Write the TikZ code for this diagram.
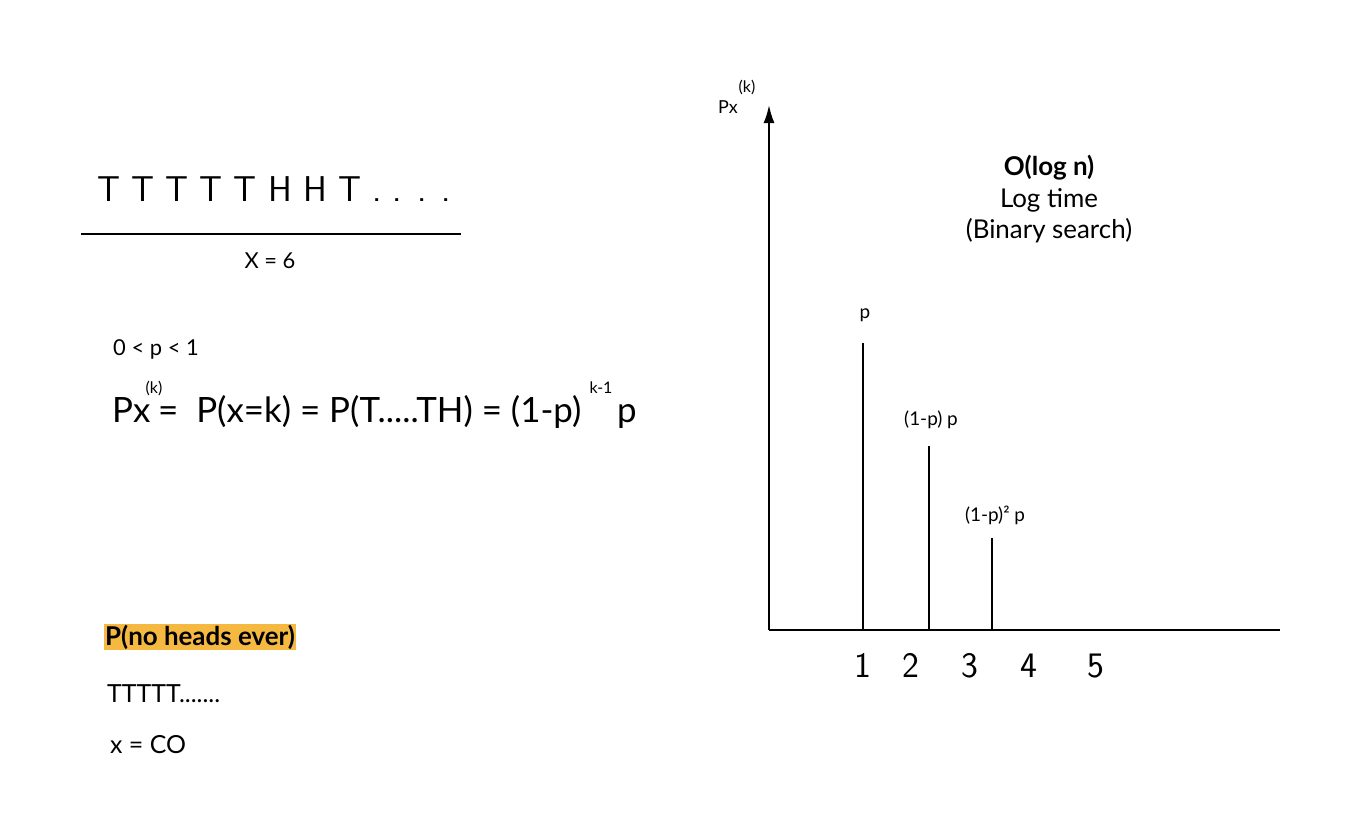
\documentclass[tikz,border=0pt]{standalone}
\usepackage{fontspec}
\setmainfont{Lato}
\usetikzlibrary{arrows.meta,positioning}
\definecolor{hilite}{HTML}{F5B942}

\begin{document}
\begin{tikzpicture}[x=1bp,y=-1bp,
lbl/.style={inner sep=0pt,anchor=base west},
clbl/.style={inner sep=0pt,anchor=base},
huge/.style={font=\sffamily\fontsize{36}{40}\selectfont},
big/.style={font=\fontsize{35}{40}\selectfont},
mid/.style={font=\fontsize{25}{30}\selectfont},
head/.style={font=\fontsize{26}{30}\selectfont},
small/.style={font=\fontsize{22}{26}\selectfont},
tiny/.style={font=\fontsize{19}{22}\selectfont},
sup/.style={inner sep=0pt,anchor=center,font=\fontsize{16}{18}\selectfont},
axis/.style={line width=2bp,-{Latex[length=18bp,width=11bp]}},
bar/.style={line width=2bp}]
\useasboundingbox (0,0) rectangle (1360,827);

% left side: coin tosses and pmf
\node[clbl,huge] (tosses) at (274,201) {T T T T T H H T . . . .};
\coordinate (ruleL) at (81,234);
\coordinate (ruleR) at (461,234);
\draw[line width=2bp] (ruleL) -- (ruleR);
\node[clbl,small] (xval) at (270,268) {X = 6};
\node[lbl,small] (prange) at (113,355) {0 < p < 1};
\node[lbl,big] (pmfPx) at (112,422) {Px};
\node[lbl,big] (pmf) at (158,422) {=\ \ P(x=k) = P(T.....TH) = (1-p)};
\node[lbl,big] (pmfp) at (617,422) {p};
\node[sup] (pmfk) at (154,388) {(k)};
\node[sup] (pmfexp) at (601,388) {k-1};

\node[lbl,font=\bfseries\fontsize{26}{30}\selectfont,fill=hilite,inner xsep=1bp,inner ysep=1bp] (noheads) at (104,645) {P(no heads ever)};
\node[lbl,mid] (alltails) at (107,702) {TTTTT.......};
\node[lbl,mid] (xco) at (110,753) {x = CO};

% right side: plot of Px^(k)
\coordinate (origin) at (769,630);
\coordinate (ytop) at (769,105);
\coordinate (xend) at (1280,630);
\draw[axis] (origin) -- (ytop);
\draw[bar] (origin) -- (xend);
\node[lbl,font=\fontsize{18}{20}\selectfont] (ylabel) at (718,113) {Px};
\node[sup] (ylabelk) at (747,87) {(k)};

\node[clbl,font=\bfseries\fontsize{26}{30}\selectfont] (title) at (1049,175) {O(log n)};
\node[clbl,head] (subtitle) at (1049,207) {Log time};
\node[clbl,head] (subtitle2) at (1049,238) {(Binary search)};

\coordinate (b1) at (863,630);
\coordinate (t1) at (863,343);
\coordinate (b2) at (929,630);
\coordinate (t2) at (929,446);
\coordinate (b3) at (992,630);
\coordinate (t3) at (992,538);
\draw[bar] (b1) -- (t1);
\draw[bar] (b2) -- (t2);
\draw[bar] (b3) -- (t3);
\node[clbl,tiny] (p1) at (865,318) {p};
\node[clbl,tiny] (p2) at (931,425) {(1-p) p};
\node[clbl,tiny] (p3) at (995,521) {(1-p)² p};

\foreach \n/\x in {1/863,2/911,3/970,4/1029,5/1096}
  \node[clbl,huge] (tick\n) at (\x,677) {\n};
\end{tikzpicture}
\end{document}
